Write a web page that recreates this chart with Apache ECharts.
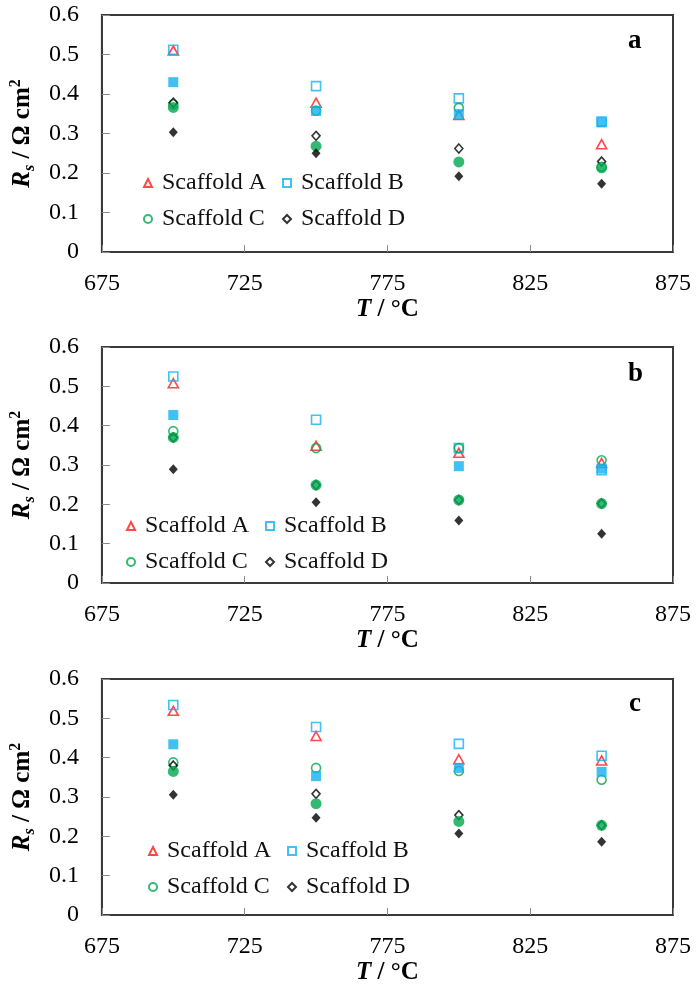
<!DOCTYPE html>
<html>
<head>
<meta charset="utf-8">
<script src="https://cdn.jsdelivr.net/npm/echarts@6/dist/echarts.min.js"></script>
<style>
  html, body { margin: 0; padding: 0; background: #ffffff; }
  #chart { width: 696px; height: 988px; }
</style>
</head>
<body>
<div id="chart"></div>
<script>
// Operating temperatures (°C)
const temps = [700, 750, 800, 850];

// Panel a — series resistance R_s (Ω cm²)
const aOpenA = [0.510, 0.378, 0.347, 0.273];
const aOpenB = [0.512, 0.420, 0.389, 0.330];
const aOpenC = [0.374, 0.358, 0.365, 0.216];
const aOpenD = [0.378, 0.294, 0.262, 0.229];
const aFillB = [0.430, 0.357, 0.349, 0.328];
const aFillC = [0.366, 0.268, 0.228, 0.213];
const aFillD = [0.303, 0.250, 0.192, 0.173];

// Panel b
const bOpenA = [0.508, 0.349, 0.331, 0.305];
const bOpenB = [0.525, 0.415, 0.343, 0.287];
const bOpenC = [0.386, 0.343, 0.343, 0.312];
const bOpenD = [0.370, 0.249, 0.211, 0.202];
const bFillB = [0.427, null, 0.297, 0.291];
const bFillC = [0.370, 0.249, 0.211, 0.202];
const bFillD = [0.289, 0.205, 0.159, 0.125];

// Panel c
const cOpenA = [0.519, 0.455, 0.396, 0.393];
const cOpenB = [0.534, 0.478, 0.435, 0.405];
const cOpenC = [0.388, 0.374, 0.366, 0.344];
const cOpenD = [0.380, 0.308, 0.254, 0.228];
const cFillB = [0.434, 0.353, 0.374, 0.364];
const cFillC = [0.365, 0.283, 0.238, 0.228];
const cFillD = [0.306, 0.247, 0.207, 0.186];

const panelLetters = ['a', 'b', 'c'];
const scaffoldNames = ['Scaffold A', 'Scaffold B', 'Scaffold C', 'Scaffold D'];

const panels = [
  { open: [aOpenA, aOpenB, aOpenC, aOpenD], fill: [aFillB, aFillC, aFillD] },
  { open: [bOpenA, bOpenB, bOpenC, bOpenD], fill: [bFillB, bFillC, bFillD] },
  { open: [cOpenA, cOpenB, cOpenC, cOpenD], fill: [cFillB, cFillC, cFillD] }
];

const FONT = 'Liberation Serif';
const RED = '#ff1a1a';
const BLUE = '#12b0f0';
const GREEN = '#00a84f';
const BLACK = '#000000';

// open marker styles for scaffolds A..D, filled marker styles for B..D
const openStyle = [
  { symbol: 'triangle', size: [10, 9], color: RED },
  { symbol: 'rect', size: 9, color: BLUE },
  { symbol: 'circle', size: 9, color: GREEN },
  { symbol: 'diamond', size: [8, 9], color: BLACK }
];
const fillStyle = [
  { symbol: 'rect', size: 10, color: BLUE },
  { symbol: 'circle', size: 11, color: GREEN },
  { symbol: 'diamond', size: [9, 10], color: BLACK }
];

// plot-area layout of the three stacked panels
const gridBoxes = [
  { left: 100, top: 15, width: 573, height: 237 },
  { left: 100, top: 347, width: 573, height: 236 },
  { left: 100, top: 679, width: 573, height: 236 }
];
const legendBoxes = [
  { left: 143, top: 171, lineHeight: 23 },
  { left: 126, top: 514, lineHeight: 20 },
  { left: 148, top: 839, lineHeight: 22 }
];
const letterBoxes = [
  { left: 628, top: 28 },
  { left: 628, top: 361 },
  { left: 629, top: 691 }
];

function pairs(values) {
  const out = [];
  values.forEach((v, i) => { if (v !== null) out.push([temps[i], v]); });
  return out;
}

const grid = [], xAxis = [], yAxis = [], series = [], legend = [], title = [];

panels.forEach((p, k) => {
  grid.push(Object.assign({
    show: true, borderColor: '#3a3a3a', borderWidth: 2, containLabel: false
  }, gridBoxes[k]));

  xAxis.push({
    type: 'value', gridIndex: k, min: 675, max: 875, interval: 50,
    name: '{bi|T}{b| / °C}', nameLocation: 'middle', nameGap: 38,
    nameTextStyle: {
      rich: {
        bi: { fontFamily: FONT, fontSize: 25, fontWeight: 'bold', fontStyle: 'italic', color: '#000' },
        b: { fontFamily: FONT, fontSize: 25, fontWeight: 'bold', color: '#000' }
      }
    },
    axisLine: { show: true, lineStyle: { color: '#3a3a3a', width: 2 } },
    axisTick: { show: true, inside: true, length: 7, lineStyle: { color: '#8a8a8a', width: 1 } },
    axisLabel: { fontFamily: FONT, fontSize: 24, color: '#000', margin: 20 },
    splitLine: { show: false }
  });

  yAxis.push({
    type: 'value', gridIndex: k, min: 0, max: 0.6, interval: 0.1,
    name: '{ri|R}{sub|s}{b| / Ω cm}{sup|2}', nameLocation: 'middle', nameGap: 62, nameRotate: 90,
    nameTextStyle: {
      rich: {
        ri: { fontFamily: FONT, fontSize: 25, fontWeight: 'bold', fontStyle: 'italic', color: '#000', lineHeight: 30 },
        sub: { fontFamily: FONT, fontSize: 16, fontWeight: 'bold', fontStyle: 'italic', color: '#000', verticalAlign: 'bottom', lineHeight: 16 },
        b: { fontFamily: FONT, fontSize: 25, fontWeight: 'bold', color: '#000', lineHeight: 30 },
        sup: { fontFamily: FONT, fontSize: 16, fontWeight: 'bold', color: '#000', verticalAlign: 'top', lineHeight: 16 }
      }
    },
    axisLine: { show: true, lineStyle: { color: '#3a3a3a', width: 2 } },
    axisTick: { show: true, inside: true, length: 8, lineStyle: { color: '#8a8a8a', width: 1 } },
    axisLabel: { fontFamily: FONT, fontSize: 24, color: '#000', margin: 23 },
    splitLine: { show: false }
  });

  p.open.forEach((vals, j) => {
    const s = openStyle[j];
    series.push({
      type: 'scatter', name: scaffoldNames[j], xAxisIndex: k, yAxisIndex: k,
      symbol: s.symbol, symbolSize: s.size,
      itemStyle: { color: 'rgba(255,255,255,0)', borderColor: s.color, borderWidth: 1.6 },
      emphasis: { disabled: true },
      data: pairs(vals)
    });
  });
  p.fill.forEach((vals, j) => {
    const s = fillStyle[j];
    series.push({
      type: 'scatter', name: scaffoldNames[j + 1] + ' (filled)', xAxisIndex: k, yAxisIndex: k,
      symbol: s.symbol, symbolSize: s.size,
      itemStyle: { color: s.color, borderWidth: 0 },
      emphasis: { disabled: true },
      data: pairs(vals)
    });
  });

  const lb = legendBoxes[k];
  legend.push({
    data: scaffoldNames.slice(),
    orient: 'horizontal', left: lb.left, top: lb.top, width: 275,
    itemWidth: 8, itemHeight: 8, itemGap: 12, padding: 0,
    selectedMode: false,
    textStyle: { fontFamily: FONT, fontSize: 24, color: '#111', width: 108, lineHeight: lb.lineHeight, padding: [0, 0, 0, 5] }
  });

  title.push({
    text: panelLetters[k], left: letterBoxes[k].left, top: letterBoxes[k].top, padding: 0,
    textStyle: { fontFamily: FONT, fontSize: 27, fontWeight: 'bold', color: '#000' }
  });
});

const chart = echarts.init(document.getElementById('chart'), null, { renderer: 'canvas' });
chart.setOption({
  backgroundColor: '#ffffff',
  animation: false,
  title, grid, xAxis, yAxis, legend, series
});
</script>
</body>
</html>
